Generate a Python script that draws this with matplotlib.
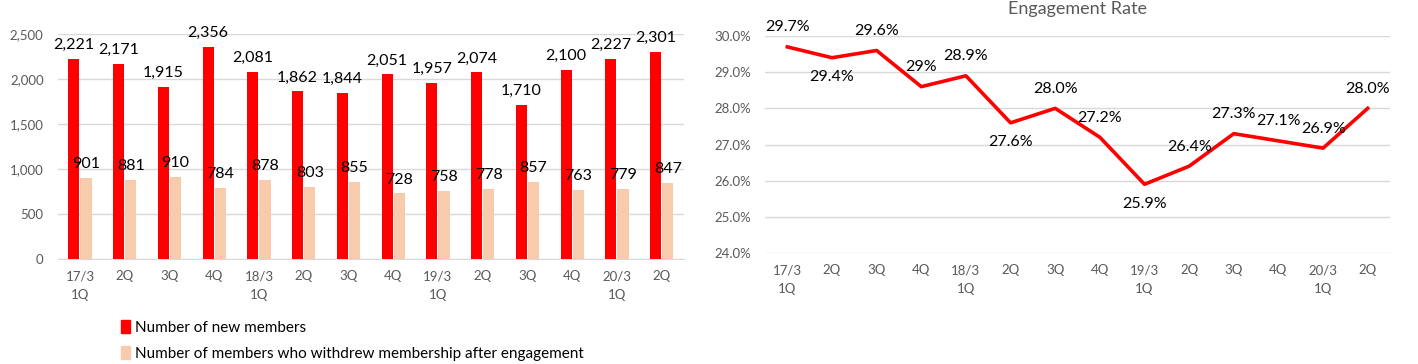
import matplotlib
matplotlib.use("Agg")
import numpy as np
import matplotlib.pyplot as plt
from matplotlib.patches import Patch

plt.rcParams['font.family'] = ['Lato', 'DejaVu Sans']

quarters = ["17/3\n1Q", "2Q", "3Q", "4Q", "18/3\n1Q", "2Q", "3Q", "4Q",
            "19/3\n1Q", "2Q", "3Q", "4Q", "20/3\n1Q", "2Q"]
new_members = [2221, 2171, 1915, 2356, 2081, 1862, 1844, 2051, 1957, 2074, 1710, 2100, 2227, 2301]
withdrawn = [901, 881, 910, 784, 878, 803, 855, 728, 758, 778, 857, 763, 779, 847]
engagement = [29.7, 29.4, 29.6, 28.6, 28.9, 27.6, 28.0, 27.2, 25.9, 26.4, 27.3, 27.1, 26.9, 28.0]
engagement_labels = ["29.7%", "29.4%", "29.6%", "29%", "28.9%", "27.6%", "28.0%", "27.2%",
                     "25.9%", "26.4%", "27.3%", "27.1%", "26.9%", "28.0%"]
# label above (+1) or below (-1) the point
label_side = [1, -1, 1, 1, 1, -1, 1, 1, -1, 1, 1, 1, 1, 1]

RED = "#FF0000"
PEACH = "#F8CBAD"
GRID = "#D9D9D9"
TICK = "#595959"

fig = plt.figure(figsize=(14.18, 3.64), dpi=100)

# left: bar chart
ax = fig.add_axes([0.0406, 0.2885, 0.4418, 0.618])
x = np.arange(len(quarters))
w = 0.25
b1 = ax.bar(x - w / 2 - 0.01, new_members, w, color=RED, zorder=3)
b2 = ax.bar(x + w / 2 + 0.01, withdrawn, w, color=PEACH, zorder=3)
for bars, vals in ((b1, new_members), (b2, withdrawn)):
    for bar, v in zip(bars, vals):
        ax.annotate(f"{v:,}", (bar.get_x() + bar.get_width() / 2, v),
                    xytext=(0, 5), textcoords="offset points",
                    ha="center", va="bottom", fontsize=11.5)
ax.set_xlim(-0.5, len(quarters) - 0.5)
ax.set_ylim(0, 2500)
ax.set_yticks(range(0, 2501, 500))
ax.yaxis.set_major_formatter(matplotlib.ticker.FuncFormatter(lambda v, p: f"{int(v):,}"))
ax.set_xticks(x)
ax.set_xticklabels(quarters)
ax.grid(axis="y", color=GRID, lw=1, zorder=0)
for s in ("top", "right", "left"):
    ax.spines[s].set_visible(False)
ax.spines["bottom"].set_color(GRID)
ax.tick_params(length=0, colors=TICK, labelsize=9.5)
ax.tick_params(axis="x", pad=8)
ax.tick_params(axis="y", pad=10)
for t in ax.get_xticklabels():
    t.set_linespacing(1.65)

fig.legend(handles=[Patch(color=RED), Patch(color=PEACH)],
           labels=["Number of new members",
                   "Number of members who withdrew membership after engagement"],
           loc="upper left", bbox_to_anchor=(0.0855, 0.12), frameon=False,
           fontsize=11, handlelength=0.6, handleheight=0.9, handletextpad=0.3,
           labelspacing=0.75, borderaxespad=0, borderpad=0)

# right: line chart
ax2 = fig.add_axes([0.5395, 0.305, 0.4408, 0.596])
ax2.plot(x, engagement, color=RED, lw=2.6, zorder=3)
for xi, v, lab, side in zip(x, engagement, engagement_labels, label_side):
    ax2.annotate(lab, (xi, v), xytext=(0, 9 * side), textcoords="offset points",
                 ha="center", va="bottom" if side > 0 else "top", fontsize=11.5)
ax2.set_xlim(-0.5, len(quarters) - 0.5)
ax2.set_ylim(24, 30)
ax2.set_yticks(np.arange(24, 30.1, 1))
ax2.yaxis.set_major_formatter(matplotlib.ticker.FuncFormatter(lambda v, p: f"{v:.1f}%"))
ax2.set_xticks(x)
ax2.set_xticklabels(quarters)
ax2.grid(axis="y", color=GRID, lw=1, zorder=0)
for s in ("top", "right", "left", "bottom"):
    ax2.spines[s].set_visible(False)
ax2.tick_params(length=0, colors=TICK, labelsize=9.5)
ax2.tick_params(axis="x", pad=8)
ax2.tick_params(axis="y", pad=10)
for t in ax2.get_xticklabels():
    t.set_linespacing(1.65)
fig.text(0.5395 + 0.4408 / 2, 0.975, "Engagement Rate", ha="center", va="center",
         fontsize=13, color=TICK)

fig.savefig("out.png", dpi=100)
